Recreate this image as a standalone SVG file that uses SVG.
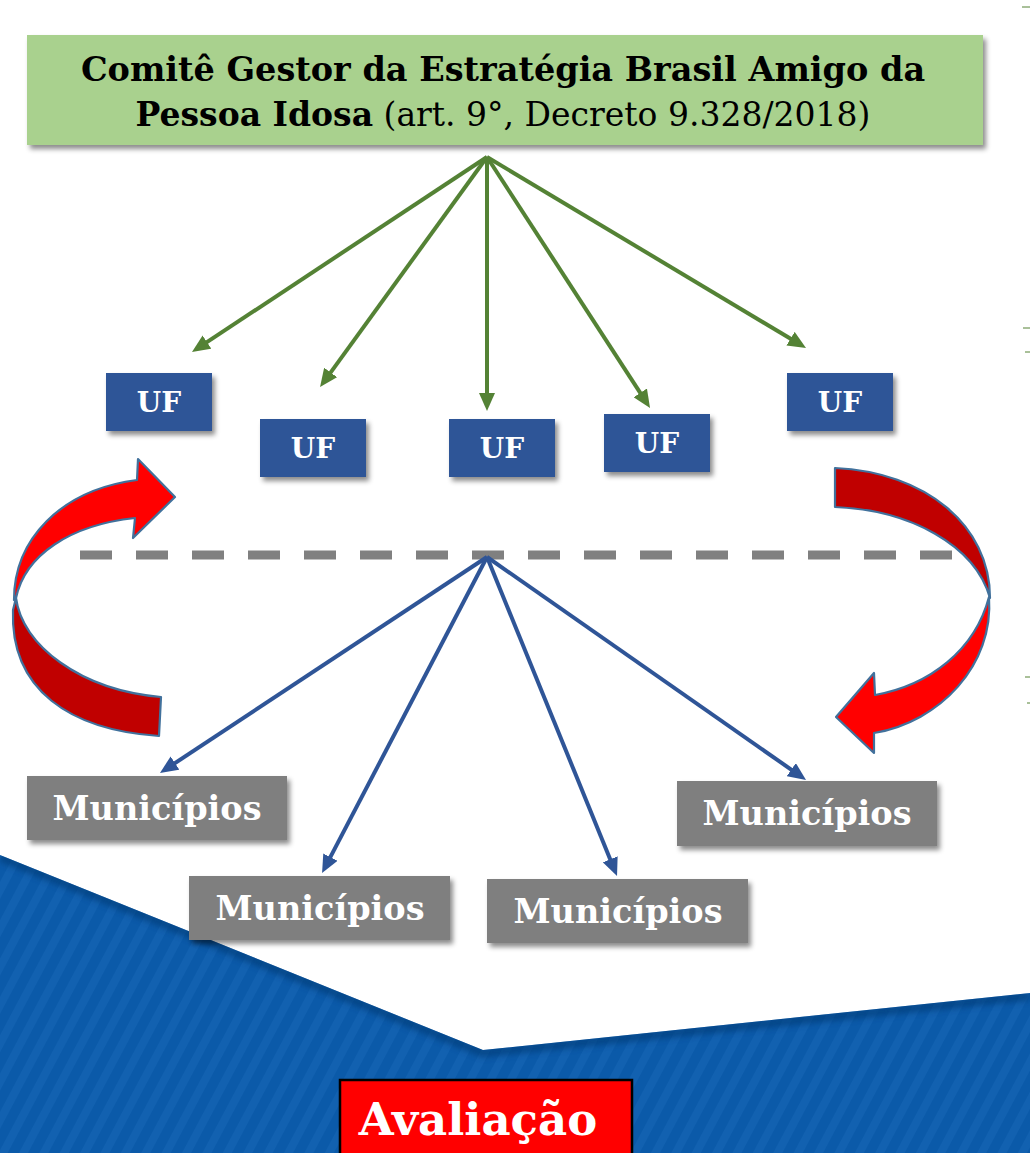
<svg xmlns="http://www.w3.org/2000/svg" width="1030" height="1153" viewBox="0 0 1030 1153">
<style>
.serif{font-family:"DejaVu Serif","Liberation Serif",serif;}
.b{font-weight:bold;}
.uf rect{fill:#2f5597;}
.uf text{fill:#fff;font-size:28px;font-weight:bold;text-anchor:middle;font-family:"DejaVu Serif","Liberation Serif",serif;}
.mun rect{fill:#7f7f7f;}
.mun text{fill:#fff;font-size:33.5px;font-weight:bold;text-anchor:middle;font-family:"DejaVu Serif","Liberation Serif",serif;}
.g{stroke:#548235;stroke-width:4;fill:none;}
.bl{stroke:#2f5597;stroke-width:4;fill:none;}
.curv{stroke:#41719c;stroke-width:2.2;stroke-linejoin:round;}
.tick{stroke:#548235;stroke-width:1;}
</style>
<defs>
<filter id="sh" x="-10%" y="-20%" width="130%" height="150%">
<feDropShadow dx="3" dy="4" stdDeviation="2.5" flood-color="#000" flood-opacity="0.45"/>
</filter>
<filter id="blur"><feGaussianBlur stdDeviation="3"/></filter>
<marker id="ag" viewBox="0 0 18 16" markerWidth="18" markerHeight="16" refX="6" refY="8" orient="auto" markerUnits="userSpaceOnUse">
<path d="M0,0 L18,8 L0,16 Z" fill="#548235"/>
</marker>
<marker id="ab" viewBox="0 0 18 16" markerWidth="18" markerHeight="16" refX="6" refY="8" orient="auto" markerUnits="userSpaceOnUse">
<path d="M0,0 L18,8 L0,16 Z" fill="#2f5597"/>
</marker>
<pattern id="stripes" width="18" height="18" patternUnits="userSpaceOnUse" patternTransform="rotate(28)">
<rect width="18" height="18" fill="#0b5aa9"/>
<rect width="8" height="18" fill="#1261b0"/>
</pattern>
<clipPath id="bgclip"><path d="M0,855 L483,1050 L1030,993 L1030,1153 L0,1153 Z"/></clipPath>
</defs>

<rect width="1030" height="1153" fill="#fff"/>

<g id="background">
<path d="M0,855 L483,1050 L1030,993 L1030,1153 L0,1153 Z" fill="url(#stripes)"/>
<g clip-path="url(#bgclip)">
<polyline points="0,857 483,1053 1030,996" fill="none" stroke="#063a75" stroke-width="8" filter="url(#blur)" opacity="0.7"/>
</g>
<line class="tick" x1="1022" y1="7" x2="1030" y2="7"/>
<line class="tick" x1="1023" y1="328" x2="1030" y2="328"/>
<line class="tick" x1="1025" y1="352" x2="1030" y2="352"/>
<line class="tick" x1="1025" y1="677" x2="1030" y2="677"/>
<line class="tick" x1="1027" y1="703" x2="1030" y2="703"/>
</g>

<g id="divider">
<line x1="80" y1="555" x2="955" y2="555" stroke="#808080" stroke-width="9" stroke-dasharray="32 24"/>
</g>

<g id="cycle-arrows">
<g id="left-cycle">
<path class="curv" fill="#c00000" d="M16,598 C22,645 80,690 161,697 L159,736 C70,730 10,690 13,610 Z"/>
<path class="curv" fill="#ff0000" d="M14,600 C14,540 60,490 137,480 L138,459 L175,497 L133,538 L135,518 C70,525 25,555 16,598 Z"/>
</g>
<g id="right-cycle">
<path class="curv" fill="#c00000" d="M835,468 C925,472 990,525 990,598 C975,545 910,510 835,507 Z"/>
<path class="curv" fill="#ff0000" d="M989,597 C994,665 940,722 874,733 L874,753 L836,717 L874,673 L875,695 C930,685 975,650 989,597 Z"/>
</g>
</g>

<g id="connectors">
<line class="g" x1="487" y1="157" x2="202" y2="345.4" marker-end="url(#ag)"/>
<line class="g" x1="487" y1="157" x2="327.1" y2="377.3" marker-end="url(#ag)"/>
<line class="g" x1="487" y1="157" x2="487" y2="399" marker-end="url(#ag)"/>
<line class="g" x1="487" y1="157" x2="643.5" y2="397.9" marker-end="url(#ag)"/>
<line class="g" x1="487" y1="157" x2="795.7" y2="341.8" marker-end="url(#ag)"/>
<line class="bl" x1="487" y1="557" x2="170" y2="766.4" marker-end="url(#ab)"/>
<line class="bl" x1="487" y1="557" x2="327.6" y2="862.4" marker-end="url(#ab)"/>
<line class="bl" x1="487" y1="557" x2="612.5" y2="864.9" marker-end="url(#ab)"/>
<line class="bl" x1="487" y1="557" x2="796.2" y2="773.1" marker-end="url(#ab)"/>
</g>

<g id="comite">
<rect x="27" y="35" width="956" height="110" fill="#a9d18e" filter="url(#sh)"/>
<text class="serif b" x="503" y="81" font-size="33.5" text-anchor="middle" fill="#000">Comitê Gestor da Estratégia Brasil Amigo da</text>
<text class="serif" x="503" y="126" font-size="33" text-anchor="middle" fill="#000"><tspan font-weight="bold">Pessoa Idosa</tspan> (art. 9°, Decreto 9.328/2018)</text>
</g>

<g id="uf1" class="uf"><rect x="106" y="373" width="106" height="58" filter="url(#sh)"/><text x="159" y="412">UF</text></g>
<g id="uf2" class="uf"><rect x="260" y="419" width="106" height="58" filter="url(#sh)"/><text x="313" y="458">UF</text></g>
<g id="uf3" class="uf"><rect x="449" y="419" width="106" height="58" filter="url(#sh)"/><text x="502" y="458">UF</text></g>
<g id="uf4" class="uf"><rect x="604" y="414" width="106" height="58" filter="url(#sh)"/><text x="657" y="453">UF</text></g>
<g id="uf5" class="uf"><rect x="787" y="373" width="106" height="58" filter="url(#sh)"/><text x="840" y="412">UF</text></g>

<g id="mun1" class="mun"><rect x="27" y="776" width="260" height="64" filter="url(#sh)"/><text x="157" y="820">Municípios</text></g>
<g id="mun2" class="mun"><rect x="189" y="876" width="261" height="64" filter="url(#sh)"/><text x="320" y="920">Municípios</text></g>
<g id="mun3" class="mun"><rect x="487" y="879" width="261" height="64" filter="url(#sh)"/><text x="618" y="923">Municípios</text></g>
<g id="mun4" class="mun"><rect x="677" y="781" width="260" height="65" filter="url(#sh)"/><text x="807" y="825">Municípios</text></g>

<g id="avaliacao">
<rect x="340" y="1080" width="292" height="80" fill="#ff0000" stroke="#000" stroke-width="2.5"/>
<text class="serif b" x="478" y="1135" font-size="45" text-anchor="middle" fill="#fff">Avaliação</text>
</g>
</svg>
